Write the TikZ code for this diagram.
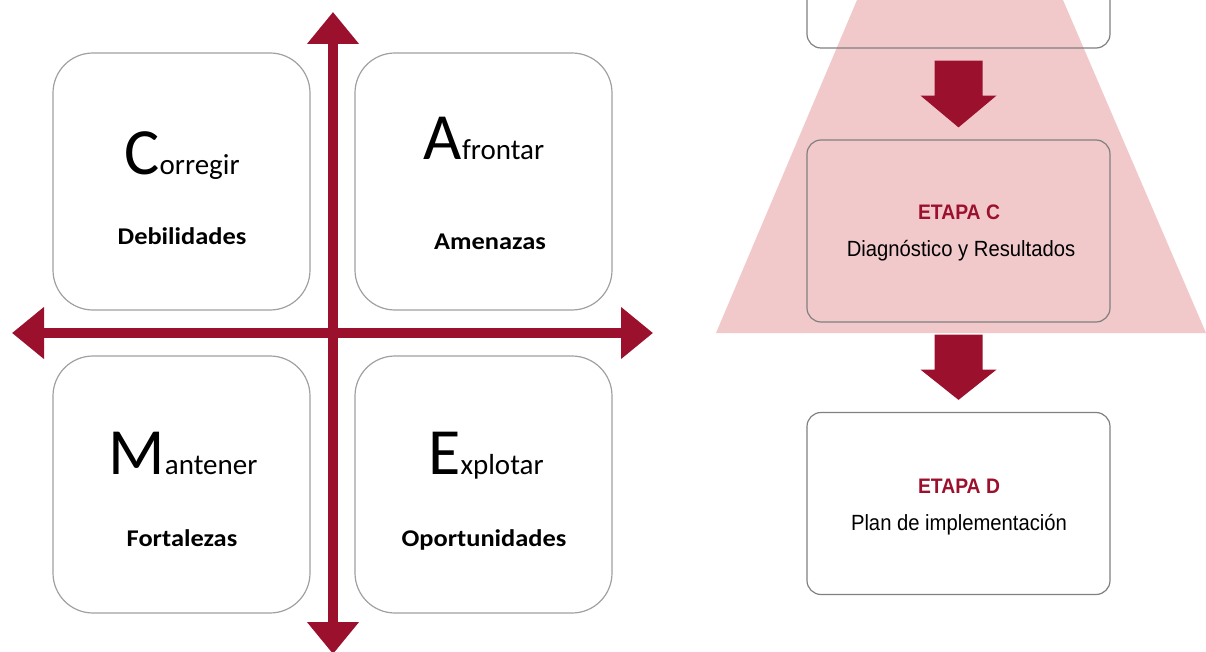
\documentclass[tikz,border=0pt]{standalone}
\usepackage{fontspec}
\setmainfont{Carlito}
\newfontfamily\arialfont[FakeStretch=0.92]{Liberation Sans}
\newfontfamily\quadfont[FakeStretch=1.1]{Carlito}
\usetikzlibrary{arrows.meta, positioning, calc}
\definecolor{darkred}{RGB}{155,17,45}
\definecolor{trapink}{RGB}{242,201,203}
\definecolor{quadgray}{RGB}{160,160,160}
\definecolor{stagegray}{RGB}{128,128,128}
\newcommand{\quadtitle}[2]{{\fontsize{66}{66}\selectfont #1}{\fontsize{29}{29}\selectfont #2}}
\newcommand{\stagearrow}[2]{\fill[darkred] ($(#1.south)+(-24,12)$) -- ($(#1.south)+(24,12)$) -- ($(#1.south)+(24,47)$) -- ($(#1.south)+(38,47)$) -- ($(#2.north)+(0,-12)$) -- ($(#1.south)+(-38,47)$) -- ($(#1.south)+(-24,47)$) -- cycle;}
\tikzset{
  quad/.style={draw=quadgray, line width=1.2pt, rounded corners=40pt, minimum size=257pt, inner sep=0pt},
  quadtext/.style={anchor=base, font=\quadfont\bfseries\fontsize{24}{24}\selectfont},
  stagebox/.style={draw=stagegray, line width=1.2pt, rounded corners=14pt, minimum width=303pt, minimum height=182pt, inner sep=0pt},
  stagetitle/.style={anchor=base, text=darkred, font=\arialfont\bfseries\fontsize{21}{21}\selectfont},
  stagetext/.style={anchor=base, font=\arialfont\fontsize{22}{22}\selectfont},
  axis/.style={darkred, line width=10pt, {Triangle[width=50pt,length=32pt]}-{Triangle[width=50pt,length=32pt]}}
}
\begin{document}
\begin{tikzpicture}[x=1pt, y=-1pt]
	\useasboundingbox (0,0) rectangle (1206,652);
	\node[quad] (corr) at (181.5,181.5) {};
	\node[quad] (afro) at (483.5,181.5) {};
	\node[quad] (mant) at (181.5,484.5) {};
	\node[quad] (expl) at (483.5,484.5) {};
	\node[anchor=base] (corrt) at (182,175) {\quadtitle{C}{orregir}};
	\node[anchor=base] (afrot) at (484,160) {\quadtitle{A}{frontar}};
	\node[anchor=base] (mantt) at (183,474) {\quadtitle{M}{antener}};
	\node[anchor=base] (explt) at (486,474) {\quadtitle{E}{xplotar}};
	\node[quadtext] (deb) at (182,244) {Debilidades};
	\node[quadtext] (ame) at (490,250) {Amenazas};
	\node[quadtext] (fort) at (182,546) {Fortalezas};
	\node[quadtext] (oport) at (484,546) {Oportunidades};
	\coordinate (axn) at (333,12);
	\coordinate (axs) at (333,654);
	\coordinate (axw) at (12,333);
	\coordinate (axe) at (653,333);
	\draw[axis] (axw) -- (axe);
	\draw[axis] (axn) -- (axs);
	\fill[trapink] (857,0) -- (1063,0) -- (1206,333) -- (716,333) -- cycle;
	\node[stagebox] (etb) at (958.5,-43) {};
	\node[stagebox] (etc) at (958.5,231) {};
	\node[stagebox] (etd) at (958.5,503.5) {};
	\node[stagetitle] (etct) at (959,220) {ETAPA C};
	\node[stagetext] (etcx) at (961,256) {Diagnóstico y Resultados};
	\node[stagetitle] (etdt) at (959,493) {ETAPA D};
	\node[stagetext] (etdx) at (959,530) {Plan de implementación};
	\stagearrow{etb}{etc}
	\stagearrow{etc}{etd}
\end{tikzpicture}
\end{document}
